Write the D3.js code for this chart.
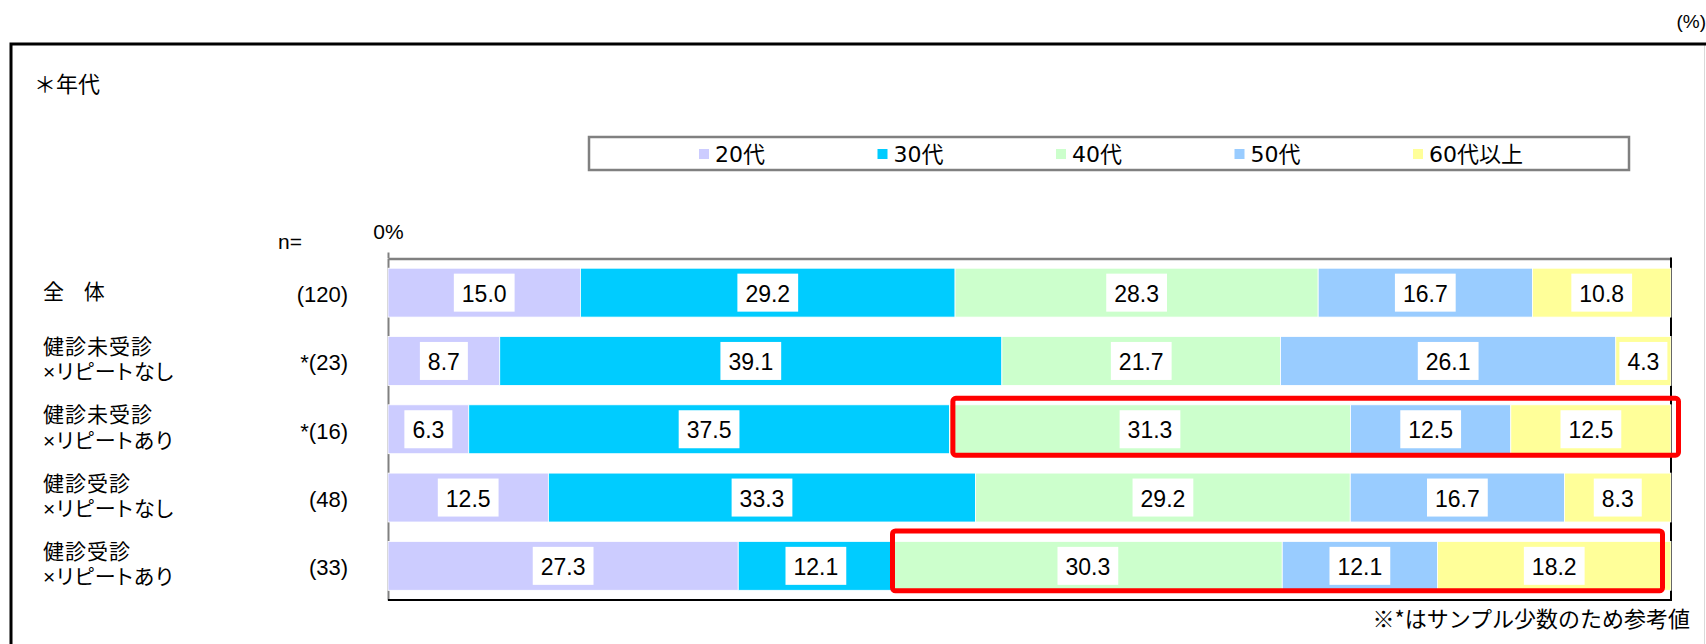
<!DOCTYPE html>
<html>
<head>
<meta charset="utf-8">
<script src="https://cdn.jsdelivr.net/npm/d3@7"></script>
<style>
  html, body { margin: 0; padding: 0; background: #fff; }
  svg { display: block; }
  .prop { font-feature-settings: "palt"; }
</style>
</head>
<body>
<svg id="chart" width="1706" height="644"></svg>
<script>
// Respondent groups (two-line labels) and their sample sizes
const categories = [
  ["全 体"],
  ["健診未受診", "×リピートなし"],
  ["健診未受診", "×リピートあり"],
  ["健診受診", "×リピートなし"],
  ["健診受診", "×リピートあり"]
];
const sampleSizes = ["(120)", "*(23)", "*(16)", "(48)", "(33)"];

// Age bands (series) and their shares in %
const seriesNames = ["20代", "30代", "40代", "50代", "60代以上"];
const values20s = [15.0, 8.7, 6.3, 12.5, 27.3];
const values30s = [29.2, 39.1, 37.5, 33.3, 12.1];
const values40s = [28.3, 21.7, 31.3, 29.2, 30.3];
const values50s = [16.7, 26.1, 12.5, 16.7, 12.1];
const values60s = [10.8, 4.3, 12.5, 8.3, 18.2];
const seriesColors = ["#CCCCFF", "#00CCFF", "#CCFFCC", "#99CCFF", "#FFFF99"];

// Rows outlined in red, starting from the 40代 segment
const highlightRows = [2, 4];
const highlightFrom = "40代";

const title = "＊年代";
const unitLabel = "(%)";
const nLabel = "n=";
const footnote = "※*はサンプル少数のため参考値";

// ---- table for the stack layout ----
const seriesValues = [values20s, values30s, values40s, values50s, values60s];
const table = categories.map((c, i) => {
  const row = { idx: i };
  seriesNames.forEach((s, k) => { row[s] = seriesValues[k][i]; });
  return row;
});
const stacked = d3.stack().keys(seriesNames).offset(d3.stackOffsetExpand)(table);

const svg = d3.select("#chart");
const JP = "'Noto Sans CJK JP', 'Noto Sans CJK SC', sans-serif";
const NUM = "'Liberation Sans Narrow', 'Liberation Sans', Arial, sans-serif";

const x = d3.scaleLinear().domain([0, 1]).range([388, 1671]);
const y = d3.scaleBand().domain(d3.range(categories.length))
  .range([258.5, 600]).paddingInner(0.284).paddingOuter(0.142);
const color = d3.scaleOrdinal().domain(seriesNames).range(seriesColors);

// ---- outer frame ----
svg.append("line").attr("x1", 1704.5).attr("x2", 1704.5).attr("y1", 44).attr("y2", 644)
  .attr("stroke", "#d9d9d9").attr("stroke-width", 1);
svg.append("path").attr("d", "M11,644V44H1706").attr("fill", "none")
  .attr("stroke", "#000").attr("stroke-width", 3);

svg.append("text").attr("x", 1706).attr("y", 21).attr("text-anchor", "end")
  .attr("dominant-baseline", "central").attr("font-family", NUM).attr("font-size", 19)
  .text(unitLabel);

svg.append("text").attr("x", 34).attr("y", 82).attr("dominant-baseline", "central")
  .attr("font-family", JP).attr("font-size", 22).text(title);

// ---- legend ----
const legend = svg.append("g");
legend.append("rect").attr("x", 589).attr("y", 137).attr("width", 1040).attr("height", 33)
  .attr("fill", "#fff").attr("stroke", "#808080").attr("stroke-width", 2.5);
const lx = d3.scalePoint().domain(seriesNames).range([699, 1413]);
const li = legend.selectAll("g.item").data(seriesNames).join("g")
  .attr("class", "item").attr("transform", d => `translate(${lx(d)},0)`);
li.append("rect").attr("x", 0).attr("y", 149).attr("width", 10).attr("height", 10)
  .attr("fill", d => color(d));
li.append("text").attr("x", 16).attr("y", 154.5).attr("dominant-baseline", "central")
  .attr("font-family", "'DejaVu Sans', " + JP).attr("font-size", 22).text(d => d);

// ---- plot frame & axes ----
const topAxis = svg.append("g").attr("transform", `translate(0,${y.range()[0]})`)
  .call(d3.axisTop(x).tickValues([0]).tickSize(6).tickSizeOuter(0).tickPadding(14)
    .tickFormat(d3.format(".0%")));
topAxis.select(".domain").attr("stroke", "#808080").attr("stroke-width", 2.5);
topAxis.selectAll(".tick line").attr("stroke", "#808080").attr("stroke-width", 2);
topAxis.selectAll(".tick text").attr("font-family", NUM).attr("font-size", 21).attr("fill", "#000");

const leftAxis = svg.append("g").attr("transform", `translate(${x.range()[0]},0)`)
  .call(d3.axisLeft(y).tickSize(0).tickSizeOuter(0).tickFormat(""));
leftAxis.select(".domain").attr("stroke", "#808080").attr("stroke-width", 2);

svg.append("path")
  .attr("d", `M${x.range()[1]},${y.range()[0] - 1}V${y.range()[1]}H${x.range()[0]}`)
  .attr("fill", "none").attr("stroke", "#000").attr("stroke-width", 2);

svg.append("text").attr("x", 278).attr("y", 241).attr("dominant-baseline", "central")
  .attr("font-family", NUM).attr("font-size", 21).text(nLabel);

// ---- bars ----
const layers = svg.append("g").selectAll("g.layer").data(stacked).join("g")
  .attr("class", "layer").attr("fill", d => color(d.key));
layers.selectAll("rect").data(d => d).join("rect")
  .attr("x", d => x(d[0])).attr("width", d => x(d[1]) - x(d[0]))
  .attr("y", d => y(d.data.idx)).attr("height", y.bandwidth())
  .attr("stroke", "#fff").attr("stroke-width", 0.8);

// ---- value labels on white boxes ----
const labelData = [];
stacked.forEach((layer, k) => layer.forEach(d => labelData.push({
  cx: x((d[0] + d[1]) / 2), cy: y(d.data.idx) + y.bandwidth() / 2,
  text: d3.format(".1f")(seriesValues[k][d.data.idx])
})));
const lab = svg.append("g").selectAll("g").data(labelData).join("g");
lab.append("rect").attr("fill", "#fff");
lab.append("text").attr("x", d => d.cx).attr("y", d => d.cy + 1)
  .attr("text-anchor", "middle").attr("dominant-baseline", "central")
  .attr("font-family", NUM).attr("font-size", 23).text(d => d.text);
lab.each(function(d) {
  const g = d3.select(this);
  const w = g.select("text").node().getComputedTextLength();
  g.select("rect").attr("x", d.cx - w / 2 - 8).attr("width", w + 16)
    .attr("y", d.cy - 19).attr("height", 38);
});

// ---- row labels (one text per line) and sample sizes ----
const rowLines = [];
categories.forEach((lines, i) => {
  const cy = y(i) + y.bandwidth() / 2;
  lines.forEach((s, j) => rowLines.push({
    text: s,
    y: cy + (lines.length === 1 ? -1 : (j === 0 ? -14.5 : 11))
  }));
});
svg.append("g").selectAll("text").data(rowLines).join("text")
  .attr("class", "prop")
  .attr("x", 43).attr("y", d => d.y)
  .attr("font-family", "'Liberation Sans', " + JP).attr("font-size", 21)
  .attr("letter-spacing", 1).attr("word-spacing", 12)
  .attr("dominant-baseline", "central").text(d => d.text);

svg.append("g").selectAll("text").data(sampleSizes).join("text")
  .attr("x", 348).attr("y", (d, i) => y(i) + y.bandwidth() / 2 + 2)
  .attr("text-anchor", "end").attr("dominant-baseline", "central")
  .attr("font-family", NUM).attr("font-size", 22).text(d => d);

// ---- red outlines on the highlighted rows ----
const from = seriesNames.indexOf(highlightFrom);
const pads = [
  { l: 3.5, r: 7.5, t: -6.5, b: 1.5 },
  { l: -1, r: -8.5, t: -10.5, b: 0.5 }
];
svg.append("g").selectAll("rect").data(highlightRows).join("rect")
  .attr("x", (r, i) => x(stacked[from][r][0]) + pads[i].l)
  .attr("y", (r, i) => y(r) + pads[i].t)
  .attr("width", (r, i) => x(1) + pads[i].r - x(stacked[from][r][0]) - pads[i].l)
  .attr("height", (r, i) => y.bandwidth() + pads[i].b - pads[i].t)
  .attr("rx", 3).attr("fill", "none").attr("stroke", "#FF0000").attr("stroke-width", 5);

// ---- footnote ----
svg.append("text").attr("x", 1690).attr("y", 617).attr("text-anchor", "end")
  .attr("dominant-baseline", "central").attr("font-family", JP).attr("font-size", 22)
  .text(footnote);
</script>
</body>
</html>
